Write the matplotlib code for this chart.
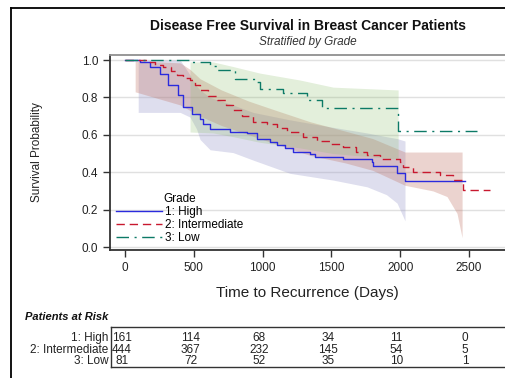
import numpy as np
import matplotlib.pyplot as plt
from matplotlib.lines import Line2D

plt.rcParams['font.family'] = ['Liberation Sans', 'DejaVu Sans']

# Kaplan-Meier estimates
t_high = [0, 110, 182, 254, 313, 385, 421, 487, 545, 567, 618, 763, 887, 959, 1054,
          1105, 1163, 1221, 1344, 1381, 1584, 1795, 1802, 1977, 2035, 2471]
s_high = [1.0, 0.99, 0.963, 0.927, 0.866, 0.811, 0.749, 0.713, 0.686, 0.659, 0.629, 0.615,
          0.608, 0.576, 0.563, 0.545, 0.528, 0.506, 0.496, 0.483, 0.469, 0.456, 0.433,
          0.394, 0.353, 0.353]
t_int = [0, 160, 220, 276, 330, 378, 420, 472, 510, 545, 600, 668, 730, 785, 850, 930,
         1032, 1105, 1177, 1290, 1395, 1490, 1584, 1680, 1759, 1850, 1999, 2020, 2093,
         2289, 2384, 2456, 2653]
s_int = [1.0, 0.991, 0.975, 0.964, 0.94, 0.92, 0.905, 0.893, 0.865, 0.84, 0.81, 0.786,
         0.76, 0.733, 0.70, 0.67, 0.658, 0.635, 0.617, 0.59, 0.568, 0.55, 0.536, 0.51,
         0.492, 0.47, 0.456, 0.429, 0.403, 0.385, 0.358, 0.305, 0.305]
t_low = [0, 472, 618, 668, 800, 945, 981, 1150, 1322, 1430, 1985, 2556]
s_low = [1.0, 0.988, 0.966, 0.947, 0.898, 0.88, 0.843, 0.822, 0.786, 0.745, 0.62, 0.62]

# confidence bands
bt_high = [95, 400, 472, 520, 545, 618, 785, 930, 1199, 1512, 1759, 1900, 1977, 2035]
lo_high = [0.72, 0.72, 0.695, 0.63, 0.575, 0.52, 0.505, 0.465, 0.394, 0.358, 0.322, 0.28, 0.235, 0.14]
hi_high = [1.0, 1.0, 0.92, 0.86, 0.84, 0.80, 0.76, 0.72, 0.68, 0.64, 0.61, 0.59, 0.58, 0.567]
bt_int = [73, 400, 472, 545, 700, 900, 1100, 1345, 1600, 1800, 2035, 2238, 2340, 2413, 2450]
lo_int = [0.83, 0.76, 0.73, 0.70, 0.65, 0.60, 0.55, 0.49, 0.45, 0.41, 0.33, 0.30, 0.27, 0.18, 0.05]
hi_int = [0.995, 0.985, 0.95, 0.90, 0.84, 0.78, 0.73, 0.67, 0.62, 0.58, 0.508, 0.508, 0.508, 0.508, 0.508]
bt_low = [472, 640, 786, 981, 1272, 1512, 1985]
lo_low = [0.615, 0.61, 0.59, 0.56, 0.53, 0.50, 0.47]
hi_low = [0.99, 0.99, 0.965, 0.93, 0.893, 0.855, 0.84]

groups = ["1: High", "2: Intermediate", "3: Low"]
risk_times = [0, 500, 1000, 1500, 2000, 2500]
at_risk = [[161, 114, 68, 34, 11, 0],
           [444, 367, 232, 145, 54, 5],
           [81, 72, 52, 35, 10, 1]]

line_cols = ["#2b2bdd", "#c8182e", "#0c7a66"]
band_cols = ["#9999cc", "#c07060", "#90c070"]
band_alpha = [0.32, 0.3, 0.25]
dashes = [None, (6, 3.5), (9, 4, 1.5, 4)]

W, H = 505, 378
fig = plt.figure(figsize=(W / 100, H / 100), dpi=100)
txt = "#222222"

ax = fig.add_axes([110 / W, 1 - 250 / H, (W - 110) / W, (250 - 55) / H])
xlim = (-110, 2762)
ax.set_xlim(*xlim)
ax.set_ylim(-0.016, 1.027)

for bt, lo, hi, c, a in zip([bt_high, bt_int, bt_low], [lo_high, lo_int, lo_low],
                            [hi_high, hi_int, hi_low], band_cols, band_alpha):
    ax.fill_between(bt, lo, hi, color=c, alpha=a, lw=0, zorder=1)

curves = [(t_high, s_high), (t_int, s_int), (t_low, s_low)]
for (t, s), c, d, lab in zip(curves, line_cols, dashes, groups):
    ln, = ax.step(t, s, where="post", color=c, lw=1.0, label=lab, zorder=3)
    if d is not None:
        ln.set_dashes(d)

ax.set_yticks(np.arange(0, 1.01, 0.2))
ax.set_xticks(risk_times)
ax.yaxis.grid(True, color="#e0e0e0", lw=1)
ax.set_axisbelow(True)
ax.tick_params(labelsize=8.5, colors="#333333", labelcolor=txt, length=5, width=1)
ax.yaxis.set_major_formatter(plt.FormatStrFormatter("%.1f"))
for side in ["left", "bottom"]:
    ax.spines[side].set_color("#333333")
    ax.spines[side].set_linewidth(1.3)
ax.spines["top"].set_color("#909090")
ax.spines["top"].set_linewidth(1.3)
ax.spines["right"].set_visible(False)

ax.set_xlabel("Time to Recurrence (Days)", fontsize=11, color=txt, labelpad=9)
ax.set_ylabel("Survival Probability", fontsize=8.5, color=txt, labelpad=28)

leg = ax.legend(title="Grade", loc="lower left", bbox_to_anchor=(0.0, 0.0), frameon=False,
                fontsize=8.5, title_fontsize=8.5, handlelength=3.9, handletextpad=0.3,
                labelspacing=0.1, borderaxespad=0.3, borderpad=0.2)

fig.text(308 / W, 1 - 26 / H, "Disease Free Survival in Breast Cancer Patients",
         ha="center", va="center", fontsize=10, fontweight="bold", color="#111111")
fig.text(308 / W, 1 - 42 / H, "Stratified by Grade", ha="center", va="center",
         fontsize=8.5, style="italic", color="#333333")

# at-risk table
tab = fig.add_axes([111 / W, 1 - 367 / H, (W - 111) / W, 40 / H])
tab.set_xlim(*xlim)
tab.set_ylim(0, 1)
tab.set_xticks([])
tab.set_yticks([])
for side in ["left", "top", "bottom"]:
    tab.spines[side].set_color("#333333")
    tab.spines[side].set_linewidth(1)
tab.spines["right"].set_visible(False)
row_y = [0.72, 0.43, 0.14]
for g, counts, y in zip(groups, at_risk, row_y):
    tab.text(-0.006, y, g, transform=tab.transAxes, ha="right", va="center",
             fontsize=8.5, color=txt)
    for tm, n in zip(risk_times, counts):
        tab.text(max(tm - 30, -55), y, str(n), ha="center", va="center", fontsize=8.5, color=txt)
fig.text(25 / W, 1 - 317 / H, "Patients at Risk", ha="left", va="center", fontsize=8,
         fontweight="bold", style="italic", color="#111111")

# outer frame
fig.add_artist(Line2D([11 / W, 1], [1 - 8 / H, 1 - 8 / H], color="black", lw=1.3))
fig.add_artist(Line2D([11 / W, 11 / W], [0, 1 - 8 / H], color="black", lw=1.3))

fig.savefig("out.png", dpi=100)
